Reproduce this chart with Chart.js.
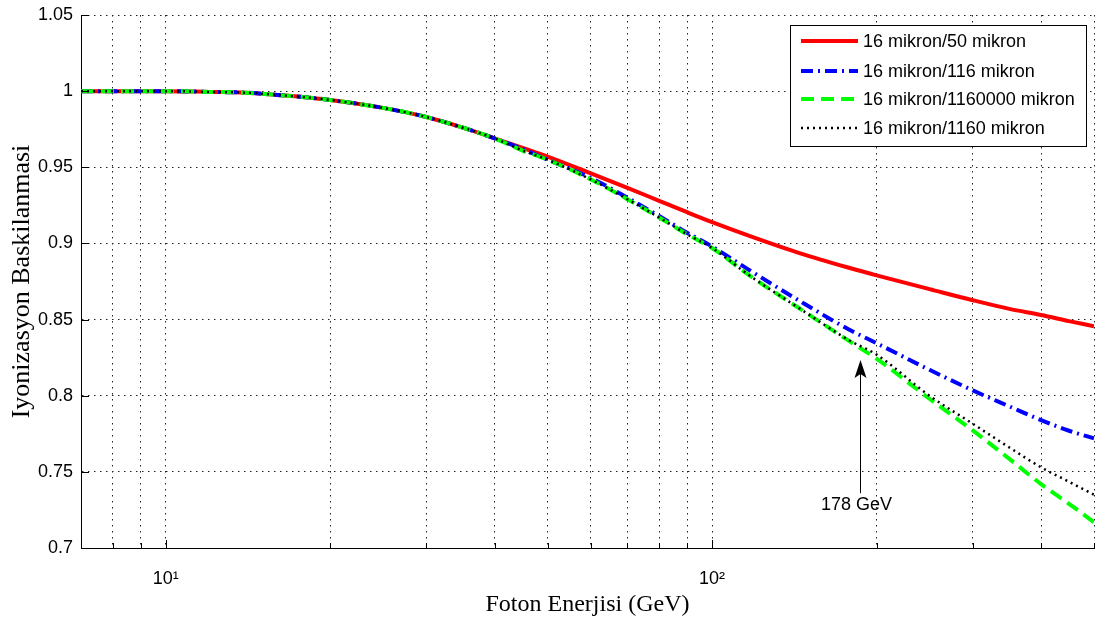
<!DOCTYPE html>
<html>
<head>
<meta charset="utf-8">
<script src="https://cdn.jsdelivr.net/npm/chart.js@4/dist/chart.umd.min.js"></script>
<style>
  html, body { margin: 0; padding: 0; background: #fff; }
  #wrap { width: 1101px; height: 624px; }
</style>
</head>
<body>
<div id="wrap"><canvas id="c"></canvas></div>
<script>
// photon energy (GeV), log axis
const energies = [7, 8, 9, 10, 12, 14, 16, 18, 20, 25, 30, 35, 40, 45, 50, 60, 70, 80, 90, 100, 117, 145, 178, 200, 250, 300, 350, 400, 450, 500];

const red50 = [1.000, 1.000, 1.000, 1.000, 0.9995, 0.999, 0.9975, 0.996, 0.9942, 0.989, 0.983, 0.976, 0.969, 0.9627, 0.957, 0.946, 0.9365, 0.928, 0.9205, 0.914, 0.905, 0.8935, 0.884, 0.879, 0.870, 0.8627, 0.857, 0.853, 0.849, 0.8456];
const blue116 = [1.000, 1.000, 1.000, 1.000, 0.9995, 0.999, 0.9975, 0.996, 0.9942, 0.989, 0.983, 0.976, 0.969, 0.962, 0.955, 0.943, 0.930, 0.918, 0.907, 0.898, 0.8825, 0.862, 0.8435, 0.8345, 0.817, 0.8035, 0.793, 0.784, 0.777, 0.772];
const green1160000 = [1.000, 1.000, 1.000, 1.000, 0.9995, 0.999, 0.9975, 0.996, 0.9942, 0.989, 0.983, 0.976, 0.969, 0.961, 0.955, 0.942, 0.929, 0.917, 0.906, 0.897, 0.879, 0.857, 0.836, 0.8243, 0.798, 0.7772, 0.7585, 0.742, 0.729, 0.717];
const black1160 = [1.000, 1.000, 1.000, 1.000, 0.9995, 0.999, 0.9975, 0.996, 0.9942, 0.989, 0.983, 0.976, 0.969, 0.961, 0.955, 0.942, 0.929, 0.917, 0.906, 0.897, 0.879, 0.857, 0.8365, 0.827, 0.800, 0.7816, 0.766, 0.753, 0.7435, 0.735];

const seriesNames = ['16 mikron/50 mikron', '16 mikron/116 mikron', '16 mikron/1160000 mikron', '16 mikron/1160 mikron'];
const xGridTicks = [8, 9, 10, 20, 30, 40, 50, 60, 70, 80, 90, 100, 200, 300, 400, 500];
const xTickText = { 10: '10¹', 100: '10²' };

// arrow marking 178 GeV
const arrowLabel = '178 GeV';
const arrowX = 186.5;
const arrowTip = 0.8234;
const arrowTail = 0.736;
const arrowTextY = 0.7279;

const toPts = ys => energies.map((x, i) => ({ x: x, y: ys[i] }));

const styles = [
  { color: '#ff0000', width: 4, dash: [] },
  { color: '#0000ff', width: 4, dash: [12, 5, 2, 5] },
  { color: '#00ff00', width: 4, dash: [13, 7] },
  { color: '#000000', width: 2.5, dash: [2, 4] }
];

const seriesData = [red50, blue116, green1160000, black1160];

// legend box, arrow, inward tick marks
const extras = {
  id: 'extras',
  afterDraw(chart) {
    const ctx = chart.ctx;
    const xs = chart.scales.x, ys = chart.scales.y;
    const area = chart.chartArea;
    ctx.save();

    // inward ticks
    ctx.strokeStyle = '#000';
    ctx.lineWidth = 1;
    ctx.setLineDash([]);
    xGridTicks.forEach(v => {
      const px = Math.round(xs.getPixelForValue(v)) + 0.5;
      ctx.beginPath();
      ctx.moveTo(px, area.bottom);
      ctx.lineTo(px, area.bottom - (v === 10 || v === 100 ? 8 : 5));
      ctx.stroke();
    });
    ys.ticks.forEach(t => {
      const py = Math.round(ys.getPixelForValue(t.value)) + 0.5;
      ctx.beginPath();
      ctx.moveTo(area.left, py);
      ctx.lineTo(area.left + 8, py);
      ctx.stroke();
    });

    // arrow
    const ax = Math.round(xs.getPixelForValue(arrowX)) + 0.5;
    const tipY = ys.getPixelForValue(arrowTip);
    const tailY = ys.getPixelForValue(arrowTail);
    ctx.beginPath();
    ctx.moveTo(ax, tailY);
    ctx.lineTo(ax, tipY + 10);
    ctx.stroke();
    ctx.fillStyle = '#000';
    ctx.beginPath();
    ctx.moveTo(ax, tipY);
    ctx.lineTo(ax - 6, tipY + 18);
    ctx.lineTo(ax, tipY + 14);
    ctx.lineTo(ax + 6, tipY + 18);
    ctx.closePath();
    ctx.fill();
    ctx.font = '18px "Liberation Sans", Arial, sans-serif';
    ctx.textAlign = 'center';
    ctx.textBaseline = 'middle';
    ctx.fillText(arrowLabel, ax - 4, ys.getPixelForValue(arrowTextY));

    // legend
    const bx = 790.5, by = 25.5, bw = 296, bh = 121;
    ctx.fillStyle = '#fff';
    ctx.fillRect(bx, by, bw, bh);
    ctx.strokeStyle = '#000';
    ctx.lineWidth = 1;
    ctx.strokeRect(bx, by, bw, bh);
    const rowY = [41, 71, 99, 128];
    ctx.textAlign = 'left';
    ctx.textBaseline = 'middle';
    seriesNames.forEach((name, i) => {
      const s = styles[i];
      ctx.strokeStyle = s.color;
      ctx.lineWidth = s.width;
      ctx.setLineDash(s.dash);
      ctx.beginPath();
      ctx.moveTo(801, rowY[i]);
      ctx.lineTo(858, rowY[i]);
      ctx.stroke();
      ctx.setLineDash([]);
      ctx.fillStyle = '#000';
      ctx.fillText(name, 863, rowY[i] + 1);
    });
    ctx.restore();
  }
};

new Chart(document.getElementById('c'), {
  type: 'line',
  data: {
    datasets: seriesData.map((ys, i) => ({
      label: seriesNames[i],
      data: toPts(ys),
      borderColor: styles[i].color,
      borderWidth: styles[i].width,
      borderDash: styles[i].dash,
      pointRadius: 0,
      cubicInterpolationMode: 'monotone',
      fill: false,
      order: seriesData.length - 1 - i // later series drawn on top, as in the original
    }))
  },
  options: {
    responsive: true,
    maintainAspectRatio: false,
    animation: false,
    layout: { padding: { top: 15, right: 7, left: 0, bottom: 0 } },
    plugins: { legend: { display: false }, tooltip: { enabled: false } },
    scales: {
      x: {
        type: 'logarithmic',
        min: 7,
        max: 500,
        afterBuildTicks: s => { s.ticks = xGridTicks.map(v => ({ value: v })); },
        afterFit: s => { s.height = 76; s.paddingLeft = 0; s.paddingRight = 0; },
        grid: { color: '#222', lineWidth: 1, drawTicks: false },
        border: { color: '#000', width: 1, dash: [1.5, 4.5] },
        ticks: {
          autoSkip: false,
          maxRotation: 0,
          padding: 20,
          color: '#000',
          font: { family: '"Liberation Sans", Arial, sans-serif', size: 18 },
          callback: v => xTickText[v] || ''
        },
        title: {
          display: true,
          text: 'Foton Enerjisi (GeV)',
          color: '#000',
          font: { family: '"Liberation Serif", "Times New Roman", serif', size: 24 },
          padding: { top: 0, bottom: 5 }
        }
      },
      y: {
        min: 0.7,
        max: 1.05,
        afterFit: s => { s.width = 81; s.paddingTop = 0; s.paddingBottom = 0; },
        grid: { color: '#222', lineWidth: 1, drawTicks: false },
        border: { color: '#000', width: 1, dash: [1.5, 4.5] },
        ticks: {
          stepSize: 0.05,
          padding: 8,
          color: '#000',
          font: { family: '"Liberation Sans", Arial, sans-serif', size: 18 },
          callback: v => String(Number(v.toFixed(2)))
        },
        title: {
          display: true,
          text: 'Iyonizasyon Baskilanmasi',
          color: '#000',
          font: { family: '"Liberation Serif", "Times New Roman", serif', size: 26 },
          padding: { top: 7, bottom: 0 }
        }
      }
    }
  },
  plugins: [extras]
});
</script>
</body>
</html>
